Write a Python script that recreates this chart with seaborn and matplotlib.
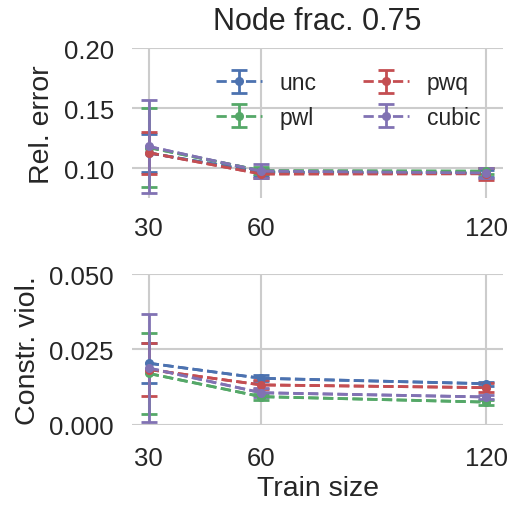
import numpy as np
import pandas as pd
import matplotlib
matplotlib.use("Agg")
import matplotlib.pyplot as plt
import seaborn as sns

train_sizes = [30, 60, 120]
methods = ["unc", "pwl", "pwq", "cubic"]

rel_err_unc = [0.1128, 0.0968, 0.0960]
rel_err_pwl = [0.1173, 0.0980, 0.0976]
rel_err_pwq = [0.1130, 0.0953, 0.0955]
rel_err_cubic = [0.1182, 0.0977, 0.0961]
rel_err_sd_unc = [0.0155, 0.0030, 0.0030]
rel_err_sd_pwl = [0.0327, 0.0030, 0.0025]
rel_err_sd_pwq = [0.0176, 0.0030, 0.0050]
rel_err_sd_cubic = [0.0390, 0.0060, 0.0040]

viol_unc = [0.0204, 0.0154, 0.0136]
viol_pwl = [0.0170, 0.0093, 0.0075]
viol_pwq = [0.0183, 0.0132, 0.0123]
viol_cubic = [0.0188, 0.0106, 0.0092]
viol_sd_unc = [0.0067, 0.0010, 0.0007]
viol_sd_pwl = [0.0135, 0.0010, 0.0008]
viol_sd_pwq = [0.0088, 0.0015, 0.0015]
viol_sd_cubic = [0.0179, 0.0015, 0.0008]

rel_err = {"unc": rel_err_unc, "pwl": rel_err_pwl, "pwq": rel_err_pwq, "cubic": rel_err_cubic}
rel_err_sd = {"unc": rel_err_sd_unc, "pwl": rel_err_sd_pwl, "pwq": rel_err_sd_pwq, "cubic": rel_err_sd_cubic}
viol = {"unc": viol_unc, "pwl": viol_pwl, "pwq": viol_pwq, "cubic": viol_cubic}
viol_sd = {"unc": viol_sd_unc, "pwl": viol_sd_pwl, "pwq": viol_sd_pwq, "cubic": viol_sd_cubic}

sns.set_theme(style="whitegrid", palette="deep")
plt.rcParams["font.family"] = ["Liberation Sans", "DejaVu Sans"]
plt.rcParams["grid.linewidth"] = 1.5
plt.rcParams["grid.color"] = "#cccccc"

deep = sns.color_palette("deep")
colors = {"unc": deep[0], "pwl": deep[2], "pwq": deep[3], "cubic": deep[4]}

fig = plt.figure(figsize=(5.13, 5.06), dpi=100)
ax1 = fig.add_axes([0.257, 0.6061, 0.724, 0.2964])
ax2 = fig.add_axes([0.257, 0.1587, 0.724, 0.2978])

def make_df(vals, sds):
    rows = []
    for m in methods:
        for x, v, s in zip(train_sizes, vals[m], sds[m]):
            rows.append({"Train size": x, "value": v, "sd": s, "method": m})
    return pd.DataFrame(rows)

handles = []
for ax, vals, sds in [(ax1, rel_err, rel_err_sd), (ax2, viol, viol_sd)]:
    df = make_df(vals, sds)
    hs = []
    for m in methods:
        sub = df[df["method"] == m]
        sns.lineplot(data=sub, x="Train size", y="value", ax=ax, color=colors[m],
                     linestyle="--", marker="o", markersize=5.5, markeredgewidth=0,
                     linewidth=2, legend=False)
        cont = ax.errorbar(sub["Train size"], sub["value"], yerr=sub["sd"], fmt="--o",
                           color=colors[m], capsize=5.5, elinewidth=2, capthick=2,
                           linewidth=2, markersize=5.5, label=m)
        hs.append(cont)
    handles.append(hs)
    ax.set_xticks(train_sizes)
    ax.set_xticklabels([str(t) for t in train_sizes])
    ax.set_xlim(25.5, 124.5)
    ax.tick_params(labelsize=18.5, length=0)
    ax.tick_params(axis="y", pad=13)
    for s in ax.spines.values():
        s.set_visible(False)

ax1.tick_params(axis="x", pad=13)
ax2.tick_params(axis="x", pad=15.5)

ax1.set_ylim(0.075, 0.20)
ax1.set_yticks([0.10, 0.15, 0.20])
ax1.set_yticklabels(["0.10", "0.15", "0.20"])
ax1.set_xlabel("")
ax1.set_ylabel("Rel. error", fontsize=20.5, labelpad=6)
ax1.set_title("Node frac. 0.75", fontsize=22, pad=14)

ax2.set_ylim(0.0, 0.05)
ax2.set_yticks([0.0, 0.025, 0.05])
ax2.set_yticklabels(["0.000", "0.025", "0.050"])
ax2.set_xlabel("Train size", fontsize=20.5, labelpad=3.5)
ax2.set_ylabel("Constr. viol.", fontsize=20.5, labelpad=6)

ax1.legend(handles=handles[0], labels=methods, loc="upper right", ncol=2,
           frameon=False, fontsize=16.5, borderaxespad=0.6,
           handlelength=2.0, columnspacing=2.0)

fig.savefig("out.png", dpi=100)
